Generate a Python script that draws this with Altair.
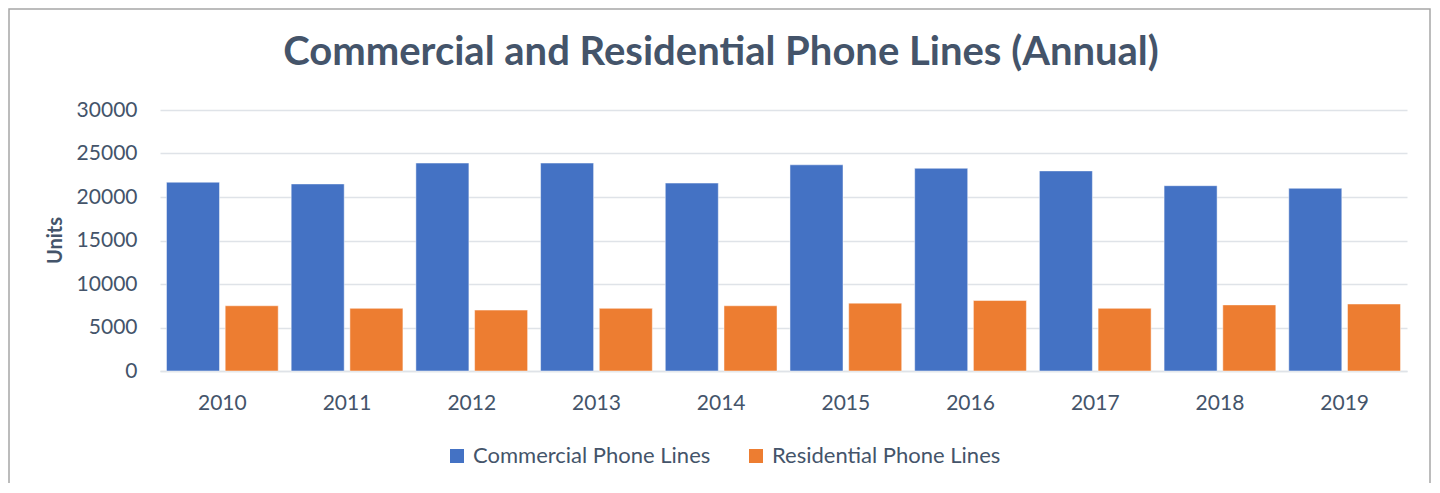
import altair as alt
import pandas as pd

years = ["2010", "2011", "2012", "2013", "2014", "2015", "2016", "2017", "2018", "2019"]
commercial = [21700, 21500, 23900, 23900, 21600, 23700, 23300, 23000, 21300, 21000]
residential = [7500, 7200, 7000, 7200, 7500, 7800, 8100, 7200, 7600, 7700]
series = ["Commercial Phone Lines", "Residential Phone Lines"]
colors = ["#4472C4", "#ED7D31"]
title_text = "Commercial and Residential Phone Lines (Annual)"

rows = []
for i, y in enumerate(years):
    rows.append({"Year": y, "Series": series[0], "Units": commercial[i]})
    rows.append({"Year": y, "Series": series[1], "Units": residential[i]})
df = pd.DataFrame(rows)

FONT = "Lato"
TXT = "#44546A"
GRID = "#DFE3E8"
W, H = 1247, 261

bars = alt.Chart(df).mark_bar(stroke="#FFFFFF", strokeWidth=0.8, strokeOpacity=0.6).encode(
    x=alt.X("Year:N", sort=years,
            scale=alt.Scale(paddingInner=0.104, paddingOuter=0.052),
            axis=alt.Axis(title=None, labelAngle=0, labelFontSize=21, labelFont=FONT,
                          labelColor=TXT, ticks=False, labelPadding=21,
                          domain=True, domainColor=GRID, domainWidth=1.5, grid=False)),
    xOffset=alt.XOffset("Series:N", sort=series,
                        scale=alt.Scale(paddingInner=0.097, paddingOuter=0)),
    y=alt.Y("Units:Q", scale=alt.Scale(domain=[0, 30000], nice=False),
            axis=alt.Axis(title="Units", values=[0, 5000, 10000, 15000, 20000, 25000, 30000],
                          format="d", labelFontSize=21, labelFont=FONT, labelColor=TXT,
                          ticks=False, labelPadding=23, domain=False,
                          gridColor=GRID, gridWidth=1.5,
                          titleFont=FONT, titleFontSize=20, titleFontWeight="bold",
                          titleColor=TXT, titleAngle=270, titleX=-105, titleY=130,
                          titleAlign="center", titleBaseline="middle")),
    color=alt.Color("Series:N", sort=series,
                    scale=alt.Scale(domain=series, range=colors),
                    legend=alt.Legend(title=None, orient="none", legendX=286, legendY=335,
                                      direction="horizontal", symbolType="square",
                                      symbolSize=196, symbolStrokeWidth=0,
                                      labelFont=FONT, labelFontSize=22, labelColor=TXT,
                                      labelOffset=5, columnPadding=34, padding=0,
                                      labelLimit=400)),
)

one = pd.DataFrame({"t": [title_text]})

title = alt.Chart(one).mark_text(
    font=FONT, fontSize=40, fontWeight="bold", color=TXT, align="center", baseline="alphabetic"
).encode(text="t:N", x=alt.value(561), y=alt.value(-45))

border = alt.Chart(one).mark_rect(
    fill=None, stroke="#A6A6A6", strokeWidth=1.5
).encode(
    x=alt.value(-151), x2=alt.value(W + 23), y=alt.value(-101), y2=alt.value(H + 200)
)

chart = alt.layer(bars, title, border).properties(
    width=W, height=H,
    autosize=alt.AutoSizeParams(type="none"),
    padding={"left": 152, "top": 102, "right": 25, "bottom": 112},
).configure_view(stroke=None)

chart.save("out.html", embed_options={"renderer": "svg", "actions": False})
